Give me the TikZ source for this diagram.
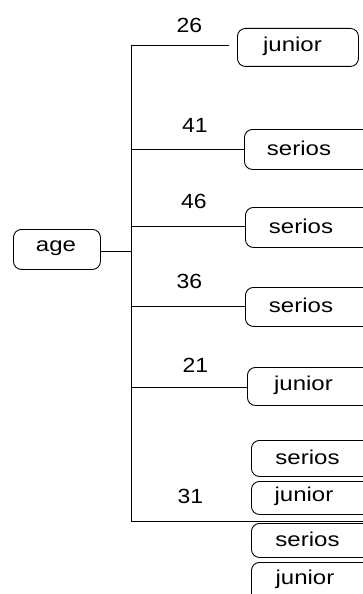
\documentclass[tikz,border=0pt]{standalone}
\usepackage{fontspec}
\setmainfont{Liberation Sans}
\begin{document}
\begin{tikzpicture}[x=1pt,y=-1pt,
  box/.style={draw=black,line width=0.9pt,rounded corners=8pt,anchor=north west,inner sep=0pt},
  word/.style={inner sep=0pt,font=\fontsize{20}{20}\selectfont},
  num/.style={inner sep=0pt,font=\fontsize{20.5}{20}\selectfont},
  edge/.style={draw=black,line width=0.9pt}]
\clip (0,0) rectangle (363,594);
\fill[white] (0,0) rectangle (363,594);
% boxes (empty shapes, text placed on them)
\node[box,minimum width=87pt,minimum height=40pt] (age) at (13,229) {};
\node[box,minimum width=121pt,minimum height=38pt] (b1) at (237,28) {};
\node[box,minimum width=126pt,minimum height=40pt] (b2) at (244,129) {};
\node[box,minimum width=126pt,minimum height=40pt] (b3) at (245,207) {};
\node[box,minimum width=126pt,minimum height=39pt] (b4) at (245,287) {};
\node[box,minimum width=126pt,minimum height=38pt] (b5) at (247,367) {};
\node[box,minimum width=126pt,minimum height=36pt] (b6) at (251,440) {};
\node[box,minimum width=126pt,minimum height=33pt] (b7) at (251,481) {};
\node[box,minimum width=126pt,minimum height=34pt] (b8) at (251,523) {};
\node[box,minimum width=126pt,minimum height=40pt] (b9) at (251,562) {};
% texts
\node[word] (tage) at (56,248) {\scalebox{1.2}[1]{age}};
\node[word] (t1) at (292.5,46) {\scalebox{1.2}[1]{junior}};
\node[word] (t2) at (299,148) {\scalebox{1.2}[1]{serios}};
\node[word] (t3) at (301,226) {\scalebox{1.2}[1]{serios}};
\node[word] (t4) at (301,305) {\scalebox{1.2}[1]{serios}};
\node[word] (t5) at (303.5,385) {\scalebox{1.2}[1]{junior}};
\node[word] (t6) at (307.5,457) {\scalebox{1.2}[1]{serios}};
\node[word] (t7) at (304,496) {\scalebox{1.2}[1]{junior}};
\node[word] (t8) at (307.5,539) {\scalebox{1.2}[1]{serios}};
\node[word] (t9) at (305,579) {\scalebox{1.2}[1]{junior}};
% numbers
\node[num] (n1) at (189.5,25.5) {\scalebox{1.12}[1]{26}};
\node[num] (n2) at (195,125) {\scalebox{1.12}[1]{41}};
\node[num] (n3) at (194,201.5) {\scalebox{1.12}[1]{46}};
\node[num] (n4) at (189.5,281.5) {\scalebox{1.12}[1]{36}};
\node[num] (n5) at (195.5,365.5) {\scalebox{1.12}[1]{21}};
\node[num] (n6) at (190.5,496.5) {\scalebox{1.12}[1]{31}};
% trunk
\coordinate (top) at (131,45);
\coordinate (mid) at (131,251);
\coordinate (bot) at (131,521);
\coordinate (end31) at (364,521);
\path[edge] (age.east |- mid) -- (mid);
\path[edge] (top) -- (bot);
\path[edge] (top) -- ([xshift=-8pt]b1.west |- top);
\path[edge] (131,149) -- (b2.west |- 0,149);
\path[edge] (131,226) -- (b3.west |- 0,226);
\path[edge] (131,306) -- (b4.west |- 0,306);
\path[edge] (131,387) -- (b5.west |- 0,387);
\path[edge] (bot) -- (end31);
\end{tikzpicture}
\end{document}
